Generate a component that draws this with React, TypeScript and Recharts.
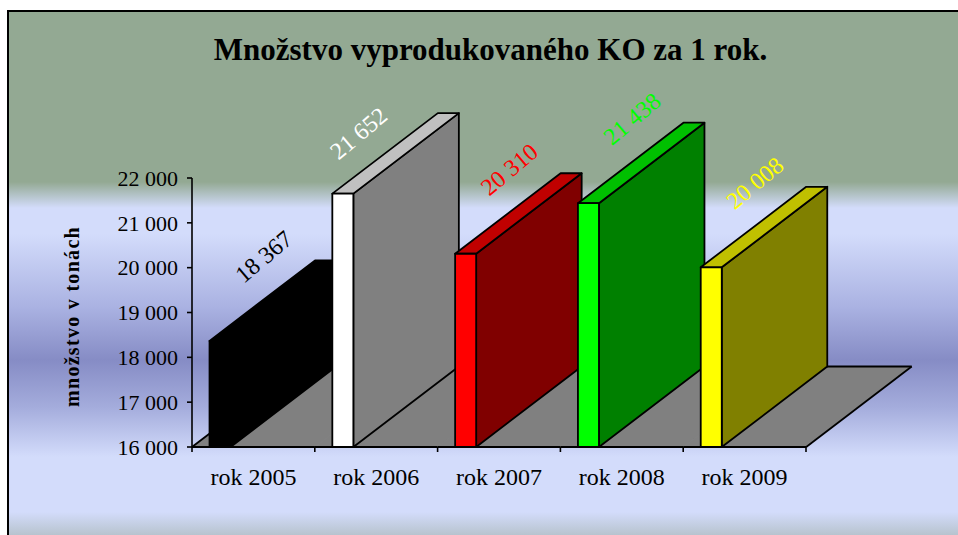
import React from 'react';
import { BarChart, Bar, XAxis, YAxis, LabelList } from 'recharts';

// ---- data ----
const categories = ['rok 2005', 'rok 2006', 'rok 2007', 'rok 2008', 'rok 2009'];
const values = [18367, 21652, 20310, 21438, 20008];
const yTicks = [16000, 17000, 18000, 19000, 20000, 21000, 22000];
const chartTitle = 'Množstvo vyprodukovaného KO za 1 rok.';
const yTitle = 'množstvo v tonách';

// ---- styles ----
const frontColors = ['#000000', '#ffffff', '#ff0000', '#00ff00', '#ffff00'];
const sideColors = ['#000000', '#808080', '#800000', '#008000', '#808000'];
const topColors = ['#000000', '#c0c0c0', '#c00000', '#00c000', '#c0c000'];
const labelNudge: Record<number, [number, number]> = { 1: [-28, 24] };

const data = categories.map((cat, i) => ({ cat, value: values[i] }));

const W = 958;
const H = 535;
const MARGIN = { top: 178, right: 152, bottom: 0, left: 0 };
const Y_AXIS_W = 192;
const X_AXIS_H = 88;
const PLOT_LEFT = MARGIN.left + Y_AXIS_W;
const PLOT_RIGHT = W - MARGIN.right;
const BAND = (PLOT_RIGHT - PLOT_LEFT) / categories.length;
const DX = 105.5;
const DY = -80.5;
const FRONT_OFFSET = 0.1425;
const FRONT_W = 0.171;
const FONT = "'Liberation Serif', 'Times New Roman', serif";
const EDGE = 1.8;

const fmt = (v: number) => {
  const s = String(Math.round(v));
  return s.length > 3 ? s.slice(0, s.length - 3) + '\u00a0' + s.slice(-3) : s;
};

const idxOf = (props: any) => {
  const c = props?.payload?.cat ?? props?.cat;
  const i = categories.indexOf(c);
  return i >= 0 ? i : props.index ?? 0;
};

const Prism = (props: any) => {
  const { x, y, width, height } = props;
  const i = idxOf(props);
  const fl = x + width * FRONT_OFFSET;
  const fr = fl + width * FRONT_W;
  const top = y;
  const bottom = y + height;
  return (
    <g stroke="#000" strokeWidth={EDGE} strokeLinejoin="round">
      <polygon
        points={`${fr},${bottom} ${fr},${top} ${fr + DX},${top + DY} ${fr + DX},${bottom + DY}`}
        fill={sideColors[i]}
      />
      <polygon
        points={`${fl},${top} ${fr},${top} ${fr + DX},${top + DY} ${fl + DX},${top + DY}`}
        fill={topColors[i]}
      />
      <rect x={fl} y={top} width={fr - fl} height={bottom - top} fill={frontColors[i]} />
    </g>
  );
};

const FloorSeg = (props: any) => {
  const { x, y, width, height } = props;
  const b = y + height;
  const isFirst = x <= PLOT_LEFT + 1;
  const isLast = x + width >= PLOT_RIGHT - 1;
  return (
    <g>
      <polygon
        points={`${x},${b} ${x + width},${b} ${x + width + DX},${b + DY} ${x + DX},${b + DY}`}
        fill="#808080"
        stroke="#808080"
        strokeWidth={0.8}
      />
      <line x1={x} y1={b} x2={x + width} y2={b} stroke="#000" strokeWidth={EDGE} />
      <line x1={x + DX} y1={b + DY} x2={x + width + DX} y2={b + DY} stroke="#000" strokeWidth={EDGE} />
      {isFirst && <line x1={x} y1={b} x2={x + DX} y2={b + DY} stroke="#000" strokeWidth={EDGE} />}
      {isLast && (
        <line x1={x + width} y1={b} x2={x + width + DX} y2={b + DY} stroke="#000" strokeWidth={EDGE} />
      )}
    </g>
  );
};

const ValueLabel = (props: any) => {
  const vb = props.viewBox && props.viewBox.width !== undefined ? props.viewBox : props;
  const { x, y, width } = vb;
  let i = props.index;
  if (i === undefined || i === null) i = values.indexOf(Number(props.value));
  const fl = x + width * FRONT_OFFSET;
  const fw = width * FRONT_W;
  const nudge = labelNudge[i] || [0, 0];
  const cx = fl + fw / 2 + DX / 2 - 9 + nudge[0];
  const cy = y + DY / 2 - 44 + nudge[1];
  return (
    <text
      x={cx}
      y={cy}
      transform={`rotate(-40 ${cx} ${cy})`}
      textAnchor="middle"
      dominantBaseline="central"
      fill={frontColors[i]}
      fontSize={24}
      fontFamily={FONT}
    >
      {fmt(Number(props.value))}
    </text>
  );
};

const XTick = (props: any) => {
  const { x, y, payload, index } = props;
  const left = x - BAND / 2;
  const isLast = index === categories.length - 1;
  return (
    <g>
      <line x1={left} y1={y} x2={left} y2={y + 5} stroke="#000" strokeWidth={1.6} />
      {isLast && <line x1={x + BAND / 2} y1={y} x2={x + BAND / 2} y2={y + 5} stroke="#000" strokeWidth={1.6} />}
      <text x={x} y={y + 38} textAnchor="middle" fontSize={24} fontFamily={FONT} fill="#000">
        {payload.value}
      </text>
    </g>
  );
};

const YTitle = (props: any) => {
  const vb = props.viewBox || { x: 0, y: MARGIN.top, width: Y_AXIS_W, height: 269 };
  const cx = vb.x + 72;
  const cy = vb.y + vb.height / 2 + 4;
  return (
    <text
      x={cx}
      y={cy}
      transform={`rotate(-90 ${cx} ${cy})`}
      textAnchor="middle"
      dominantBaseline="central"
      fontSize={20}
      fontWeight="bold"
      letterSpacing={1.3}
      fontFamily={FONT}
      fill="#000"
    >
      {yTitle}
    </text>
  );
};

const bg =
  'linear-gradient(to bottom, #93a993 0px, #93a993 170px, #d3dcfb 196px, #d3dcfb 222px, #aab2e2 295px, #868cc5 348px, #a4acdc 395px, #d3dcfb 445px, #d3dcfb 500px, #b6c2cc 524px)';

export default function App() {
  return (
    <div style={{ position: 'absolute', left: 0, top: 0, width: W, height: H, overflow: 'hidden', background: '#fff' }}>
      <div
        style={{
          position: 'absolute',
          left: 7,
          top: 10,
          width: W + 40,
          height: H + 40,
          borderTop: '2px solid #000',
          borderLeft: '2px solid #000',
          background: bg,
        }}
      />
      <div
        style={{
          position: 'absolute',
          left: 0,
          top: 34,
          width: 981,
          textAlign: 'center',
          fontFamily: FONT,
          fontWeight: 'bold',
          fontSize: 31,
          lineHeight: '31px',
          color: '#000',
          whiteSpace: 'nowrap',
        }}
      >
        {chartTitle}
      </div>
      <div style={{ position: 'absolute', left: 0, top: 0 }}>
        <BarChart width={W} height={H} data={data} margin={MARGIN} barCategoryGap={0}>
          <XAxis
            dataKey="cat"
            height={X_AXIS_H}
            axisLine={false}
            tickLine={false}
            tickSize={0}
            tickMargin={0}
            interval={0}
            tick={<XTick />}
          />
          <YAxis
            type="number"
            domain={[16000, 22000]}
            ticks={yTicks}
            width={Y_AXIS_W}
            axisLine={{ stroke: '#000', strokeWidth: 1.6 }}
            tickLine={{ stroke: '#000', strokeWidth: 1.6 }}
            tickSize={5}
            tickMargin={9}
            tickFormatter={fmt}
            tick={{ fontSize: 22, fontFamily: FONT, fill: '#000' }}
            label={(p: any) => <YTitle {...p} />}
          />
          <Bar
            dataKey="value"
            isAnimationActive={false}
            shape={(p: any) => <Prism {...p} />}
            background={(p: any) => <FloorSeg {...p} />}
          >
            <LabelList dataKey="value" content={(p: any) => <ValueLabel {...p} />} />
          </Bar>
        </BarChart>
      </div>
    </div>
  );
}
